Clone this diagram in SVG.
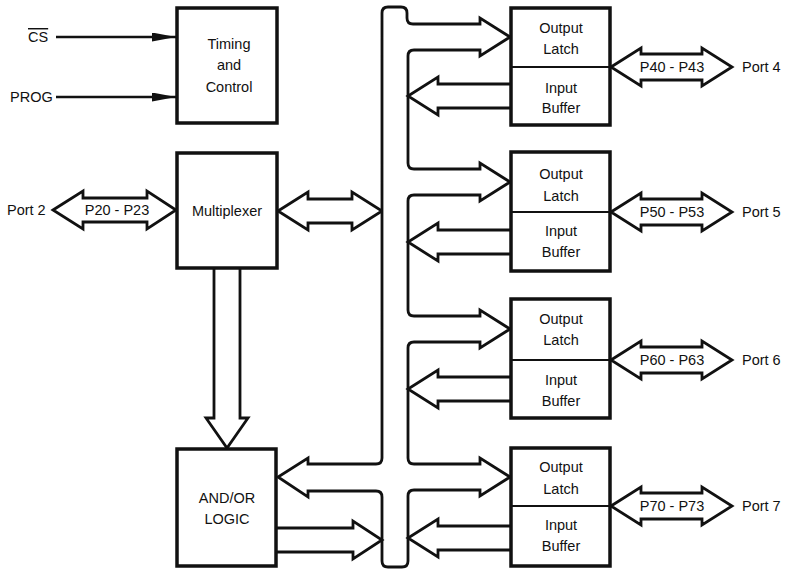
<svg xmlns="http://www.w3.org/2000/svg" width="787" height="569" viewBox="0 0 787 569">
<defs>
<style>
text{font-family:"Liberation Sans",Arial,Helvetica,sans-serif;font-size:14.5px;fill:#111;text-anchor:middle}
.lbl{text-anchor:start}
.box{fill:#fff;stroke:#111;stroke-width:3.5}
.div{stroke:#111;stroke-width:2}
.bus{fill:#fff;stroke:#111;stroke-width:2.8;stroke-linejoin:miter}
.wire{fill:none;stroke:#111;stroke-width:2.6}
</style>
<marker id="ah" viewBox="0 0 10 10" refX="10" refY="5" markerWidth="24" markerHeight="9" markerUnits="userSpaceOnUse" orient="auto" preserveAspectRatio="none">
<path d="M0,0 L10,5 L0,10 Z" fill="#111"/>
</marker>
</defs>
<rect width="787" height="569" fill="#fff"/>

<g id="connectors">
<line class="wire" x1="56" y1="37" x2="176" y2="37" marker-end="url(#ah)"/>
<line class="wire" x1="56" y1="97" x2="176" y2="97" marker-end="url(#ah)"/>
<path class="bus" d="M53,210 L83,191 L83,198 L147,198 L147,191 L176,210 L147,229 L147,222 L83,222 L83,229 Z"/>
<path class="bus" d="M278,211 L308,192 L308,199 L352,199 L352,192 L382,211 L352,230 L352,223 L308,223 L308,230 Z"/>
<path class="bus" d="M214,268 L214,418 L206,418 L227,448 L248,418 L240,418 L240,268"/>
<path id="bus" class="bus" d="M382,13 Q382,7 388,7 L401,7 Q407,7 407,13 L407,18 Q407,24 413,24 L480,24 L480,18 L510,37 L480,56 L480,50 L414,50 Q408,50 408,56 L408,163 Q408,169 414,169 L480,169 L480,163 L510,182 L480,201 L480,195 L414,195 Q408,195 408,201 L408,310 Q408,316 414,316 L480,316 L480,310 L510,329 L480,348 L480,342 L414,342 Q408,342 408,348 L408,458 Q408,464 414,464 L480,464 L480,458 L510,477 L480,496 L480,490 L414,490 Q408,490 408,496 L408,561 Q408,567 402,567 L388,567 Q382,567 382,561 L382,497 Q382,491 376,491 L308,491 L308,497 L278,477 L308,458 L308,464 L376,464 Q382,464 382,458 Z"/>
<path class="bus" d="M277,528 L353,528 L353,521 L382,540 L353,559 L353,552 L277,552"/>
<path class="bus" d="M511,84 L438,84 L438,77 L408,96 L438,115 L438,108 L511,108"/>
<path class="bus" d="M511,230 L438,230 L438,223 L408,242 L438,261 L438,254 L511,254"/>
<path class="bus" d="M511,377 L438,377 L438,370 L408,389 L438,408 L438,401 L511,401"/>
<path class="bus" d="M511,526 L438,526 L438,519 L408,538 L438,557 L438,550 L511,550"/>
<path class="bus" d="M611,67 L641,48 L641,54 L702,54 L702,48 L732,67 L702,86 L702,80 L641,80 L641,86 Z"/>
<path class="bus" d="M611,212 L641,193 L641,199 L702,199 L702,193 L732,212 L702,231 L702,225 L641,225 L641,231 Z"/>
<path class="bus" d="M611,360 L641,341 L641,347 L702,347 L702,341 L732,360 L702,379 L702,373 L641,373 L641,379 Z"/>
<path class="bus" d="M611,506 L641,487 L641,493 L702,493 L702,487 L732,506 L702,525 L702,519 L641,519 L641,525 Z"/>
<text x="117" y="215">P20 - P23</text>
<text x="672" y="72">P40 - P43</text>
<text x="672" y="217">P50 - P53</text>
<text x="672" y="365">P60 - P63</text>
<text x="672" y="511">P70 - P73</text>
</g>

<g id="cs-label"><text class="lbl" x="28" y="42" text-decoration="overline">CS</text></g>
<g id="prog-label"><text class="lbl" x="10" y="102">PROG</text></g>
<g id="port2-label"><text class="lbl" x="7" y="215">Port 2</text></g>

<g id="timing">
<rect class="box" x="177" y="8" width="100" height="115"/>
<text x="229" y="49">Timing</text>
<text x="229" y="70">and</text>
<text x="229" y="92">Control</text>
</g>

<g id="mux">
<rect class="box" x="177" y="153" width="100" height="115"/>
<text x="227" y="216">Multiplexer</text>
</g>

<g id="andor">
<rect class="box" x="177" y="449" width="99" height="117"/>
<text x="227" y="503">AND/OR</text>
<text x="227" y="524">LOGIC</text>
</g>

<g id="port4">
<rect class="box" x="511" y="8" width="99" height="117"/>
<line class="div" x1="511" y1="67" x2="610" y2="67"/>
<text x="561" y="33">Output</text>
<text x="561" y="54">Latch</text>
<text x="561" y="93">Input</text>
<text x="561" y="113">Buffer</text>
<text class="lbl" x="742" y="72">Port 4</text>
</g>

<g id="port5">
<rect class="box" x="511" y="152" width="99" height="119"/>
<line class="div" x1="511" y1="212" x2="610" y2="212"/>
<text x="561" y="179">Output</text>
<text x="561" y="201">Latch</text>
<text x="561" y="236">Input</text>
<text x="561" y="257">Buffer</text>
<text class="lbl" x="742" y="217">Port 5</text>
</g>

<g id="port6">
<rect class="box" x="511" y="299" width="99" height="119"/>
<line class="div" x1="511" y1="360" x2="610" y2="360"/>
<text x="561" y="324">Output</text>
<text x="561" y="345">Latch</text>
<text x="561" y="385">Input</text>
<text x="561" y="406">Buffer</text>
<text class="lbl" x="742" y="365">Port 6</text>
</g>

<g id="port7">
<rect class="box" x="511" y="448" width="99" height="118"/>
<line class="div" x1="511" y1="506" x2="610" y2="506"/>
<text x="561" y="472">Output</text>
<text x="561" y="494">Latch</text>
<text x="561" y="530">Input</text>
<text x="561" y="551">Buffer</text>
<text class="lbl" x="742" y="511">Port 7</text>
</g>
</svg>
